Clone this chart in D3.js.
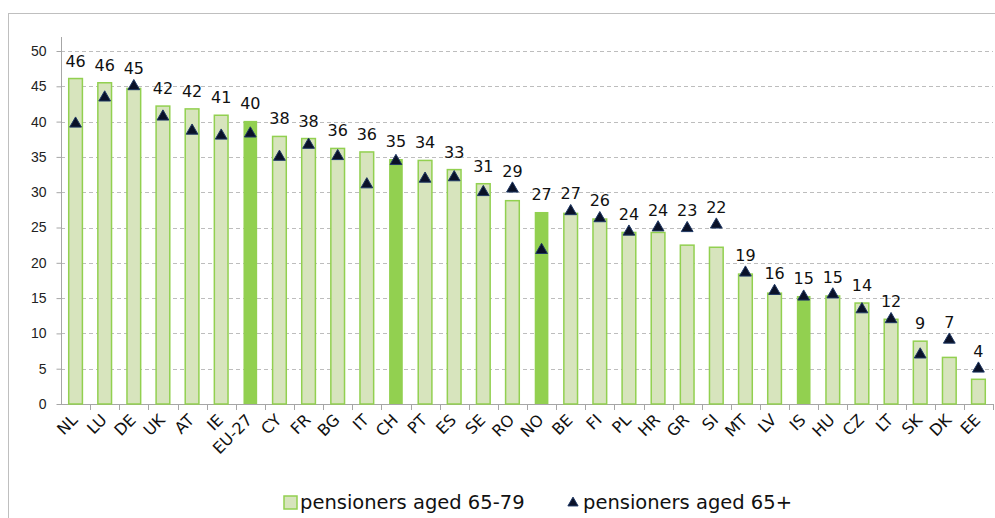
<!DOCTYPE html>
<html>
<head>
<meta charset="utf-8">
<script src="https://cdn.jsdelivr.net/npm/d3@7"></script>
<style>
  body { margin: 0; background: #fff; }
  svg { display: block; font-family: "DejaVu Sans", Verdana, sans-serif; }
</style>
</head>
<body>
<svg id="chart" width="995" height="518"></svg>
<script>
const countries = ["NL", "LU", "DE", "UK", "AT", "IE", "EU-27", "CY", "FR", "BG", "IT", "CH", "PT", "ES", "SE", "RO",
  "NO", "BE", "FI", "PL", "HR", "GR", "SI", "MT", "LV", "IS", "HU", "CZ", "LT", "SK", "DK", "EE"];
// pensioners aged 65-79 (bars)
const aged6579 = [46.1, 45.5, 44.7, 42.2, 41.8, 40.9, 40.1, 37.9, 37.6, 36.2, 35.7, 34.7, 34.5, 33.2, 31.2, 28.8,
  27.2, 27.0, 26.2, 24.3, 24.3, 22.5, 22.2, 18.4, 15.7, 15.3, 15.3, 14.3, 12.0, 8.9, 6.6, 3.5];
// pensioners aged 65+ (triangles)
const aged65plus = [39.7, 43.4, 45.0, 40.7, 38.7, 38.0, 38.3, 35.0, 36.7, 35.1, 31.1, 34.4, 31.9, 32.1, 30.0, 30.5,
  21.8, 27.3, 26.3, 24.4, 25.0, 24.9, 25.4, 18.6, 16.0, 15.2, 15.5, 13.4, 12.0, 7.0, 9.1, 5.0];
// printed value labels
const valueLabels = [46, 46, 45, 42, 42, 41, 40, 38, 38, 36, 36, 35, 34, 33, 31, 29,
  27, 27, 26, 24, 24, 23, 22, 19, 16, 15, 15, 14, 12, 9, 7, 4];
const highlighted = ["EU-27", "CH", "NO", "IS"];
const yTicks = [0, 5, 10, 15, 20, 25, 30, 35, 40, 45, 50];
const legendLabels = ["pensioners aged 65-79", "pensioners aged 65+"];

const svg = d3.select("#chart");
const margin = { left: 61, right: 2, top: 51, bottom: 114 };
const W = 995, H = 518;

const x = d3.scaleBand().domain(countries).range([margin.left, W - margin.right]).paddingInner(0.53).paddingOuter(0.265);
const y = d3.scaleLinear().domain([0, 50]).range([H - margin.bottom, margin.top]);
const step = x.step();

// outer frame
svg.append("rect").attr("x", 8.5).attr("y", 13.5).attr("width", 1000).attr("height", 600)
  .attr("fill", "none").attr("stroke", "#bfbfbf");

// gridlines
svg.append("g").selectAll("line").data(yTicks.filter(d => d > 0)).join("line")
  .attr("x1", margin.left).attr("x2", W - margin.right)
  .attr("y1", d => Math.round(y(d)) + 0.5).attr("y2", d => Math.round(y(d)) + 0.5)
  .attr("stroke", "#bdbdbd").attr("stroke-dasharray", "4,3");

// y axis
const yAxis = svg.append("g").attr("transform", `translate(${margin.left + 0.5},0)`)
  .call(d3.axisLeft(y).tickValues(yTicks).tickSize(5).tickPadding(10));
yAxis.select(".domain").attr("d", `M0,${y(0)}V37`);
yAxis.selectAll("line, .domain").attr("stroke", "#a6a6a6");
yAxis.selectAll("text").attr("font-size", 14).attr("fill", "#222").attr("font-family", null);

// x axis with ticks at band boundaries
const xg = svg.append("g");
xg.append("line").attr("x1", margin.left).attr("x2", W - margin.right)
  .attr("y1", Math.round(y(0)) + 0.5).attr("y2", Math.round(y(0)) + 0.5).attr("stroke", "#a6a6a6");
xg.selectAll("line.tk").data(d3.range(1, countries.length + 1)).join("line").attr("class", "tk")
  .attr("x1", i => Math.round(margin.left + i * step) + 0.5).attr("x2", i => Math.round(margin.left + i * step) + 0.5)
  .attr("y1", y(0)).attr("y2", y(0) + 6).attr("stroke", "#a6a6a6");
xg.selectAll("text").data(countries).join("text")
  .attr("transform", d => `translate(${x(d) + x.bandwidth() / 2 + 3},${y(0) + 17}) rotate(-45)`)
  .attr("text-anchor", "end").attr("font-size", 16).attr("fill", "#111").text(d => d);

// bars
const data = countries.map((c, i) => ({ c, a: aged6579[i], b: aged65plus[i], l: valueLabels[i] }));
svg.append("g").selectAll("rect").data(data).join("rect")
  .attr("x", d => x(d.c)).attr("width", x.bandwidth())
  .attr("y", d => y(d.a)).attr("height", d => y(0) - y(d.a))
  .attr("fill", d => highlighted.includes(d.c) ? "#92d050" : "#d7e4bd")
  .attr("stroke", d => highlighted.includes(d.c) ? "none" : "#92d050").attr("stroke-width", 1.5);

// triangles
const tri = d3.symbol().type(d3.symbolTriangle).size(60);
svg.append("g").selectAll("path").data(data).join("path")
  .attr("transform", d => `translate(${x(d.c) + x.bandwidth() / 2},${y(d.b)})`)
  .attr("d", tri).attr("fill", "#0a1128").attr("stroke", "#1f3864").attr("stroke-width", 1);

// value labels
svg.append("g").selectAll("text").data(data).join("text")
  .attr("x", d => x(d.c) + x.bandwidth() / 2)
  .attr("y", d => y(Math.max(d.a, d.b)) - 12)
  .attr("text-anchor", "middle").attr("font-size", 16).attr("fill", "#111")
  .text(d => d.l);

// legend
const lg = svg.append("g");
lg.append("rect").attr("x", 284).attr("y", 496).attr("width", 13).attr("height", 13)
  .attr("fill", "#d7e4bd").attr("stroke", "#92d050").attr("stroke-width", 1.5);
lg.append("text").attr("x", 300).attr("y", 509).attr("font-size", 19.5).attr("fill", "#111").text(legendLabels[0]);
lg.append("path").attr("transform", "translate(573,503)").attr("d", d3.symbol().type(d3.symbolTriangle).size(45))
  .attr("fill", "#0a1128").attr("stroke", "#1f3864");
lg.append("text").attr("x", 583).attr("y", 509).attr("font-size", 19.5).attr("fill", "#111").text(legendLabels[1]);
</script>
</body>
</html>
